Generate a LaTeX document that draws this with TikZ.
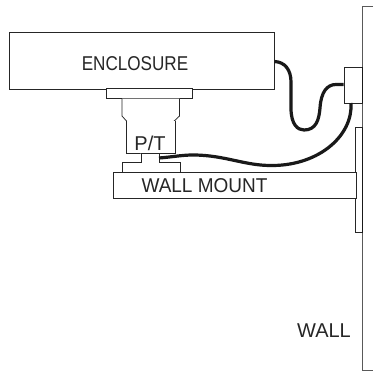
\documentclass[tikz,border=0pt]{standalone}
\usepackage{fontspec}
\setmainfont{Liberation Sans}
\tikzset{part/.style={draw=black!85,line width=0.75pt,fill=white},
 cable/.style={draw=black!90,line width=3.2pt,line cap=butt},
 lbl/.style={font=\fontsize{20pt}{22pt}\selectfont,text=black!85,inner sep=0pt}}
\begin{document}
\begin{tikzpicture}[x=1pt,y=-1pt]
\useasboundingbox (0,0) rectangle (373,375);
\fill[white] (0,0) rectangle (373,375);
% wall
\draw[draw=black!65,line width=0.75pt] (373,6) -- (362,6) -- (362,370) -- (373,370);
\draw[part,fill=white] (355.7,127.5) rectangle (362,232.5);
\draw[draw=black!90,line width=1pt] (362,127.5) -- (362,232.5);
\node[part,minimum width=265.5pt,minimum height=57pt,anchor=north west,inner sep=0pt] (enc) at (8.5,31.5) {};
\node[lbl] at (135,64) {\scalebox{0.855}[1]{ENCLOSURE}};
\draw[part] (106.5,88.5) rectangle (192.5,98.5);
\draw[part] (122,98.5) -- (122,116) -- (130.5,125.5) -- (169.5,125.5) -- (179.5,116) -- (179.5,98.5);
\draw[part] (126.7,121) -- (126.7,153) -- (175.3,153) -- (175.3,121);
\draw[part] (141.3,153) -- (141.3,162.7) -- (122,162.7) -- (122,172);
\draw[part] (159,153) -- (159,162.7) -- (180,162.7) -- (180,172);
\node[part,minimum width=242.7pt,minimum height=26pt,anchor=north west,inner sep=0pt] (mount) at (113,172.3) {};
\node[lbl] at (150,143) {P/T};
\node[lbl] at (204.5,186) {\scalebox{0.95}[1]{WALL MOUNT}};
\node[lbl] at (324,331) {WALL};
\node[part,minimum width=18.3pt,minimum height=36pt,anchor=north west,inner sep=0pt] (box) at (343.7,67) {};
\draw[draw=black!90,line width=1pt] (362,67) -- (362,103);
\coordinate (c1a) at (274.5,61.5);
\coordinate (c1b) at (343.7,84.5);
\coordinate (c2a) at (159,158);
\coordinate (c2b) at (351,103);
\draw[cable] (c1a) .. controls (285,62) and (291,70) .. (291,82) -- (291,108) .. controls (291,125) and (298,130) .. (304,130) .. controls (316,130) and (319,120) .. (320,108) .. controls (321,92) and (327,84.5) .. (336,84.5) -- (c1b);
\draw[cable] (c2a) .. controls (172,157) and (182,155) .. (193,155) .. controls (225,155) and (245,166) .. (273,165.5) .. controls (320,165) and (353,135) .. (c2b);
\end{tikzpicture}
\end{document}
